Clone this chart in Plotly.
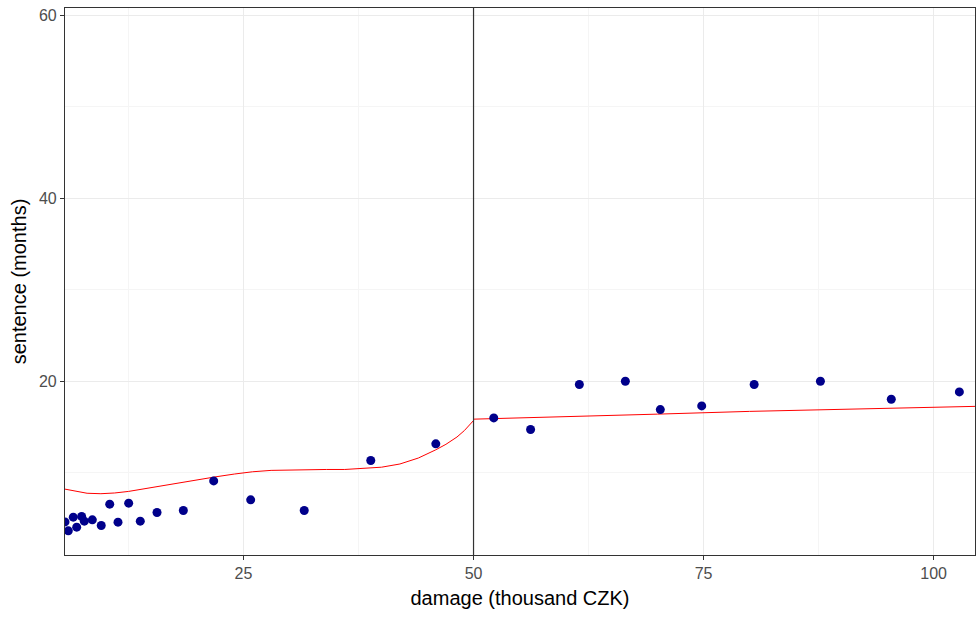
import plotly.graph_objects as go

# Observed points
damage = [5.6, 5.96, 6.5, 6.87, 7.41, 7.7, 8.57, 9.54, 10.46, 11.36, 12.52, 13.78,
          15.6, 18.46, 21.76, 25.78, 31.6, 38.83, 45.9,
          52.2, 56.2, 61.5, 66.5, 70.3, 74.8, 80.5, 87.7, 95.4, 102.8]
sentence = [4.62, 3.64, 5.14, 4.04, 5.21, 4.7, 4.84, 4.23, 6.56, 4.59, 6.67, 4.7,
            5.65, 5.87, 9.1, 7.03, 5.87, 11.33, 13.15,
            15.99, 14.72, 19.64, 20.0, 16.9, 17.3, 19.64, 20.0, 18.03, 18.83]

# Fitted curve, below cutoff
fit_left_x = [5.6, 6.5, 8.0, 9.5, 11, 12.5, 14, 16, 18, 20, 22, 24, 26, 28, 30, 32, 34,
              36, 38, 40, 42, 44, 45.9, 47, 48.2, 49, 50]
fit_left_y = [8.2, 8.0, 7.75, 7.7, 7.78, 7.95, 8.2, 8.6, 8.95, 9.25, 9.55, 9.85, 10.1,
              10.25, 10.3, 10.35, 10.35, 10.35, 10.45, 10.6, 10.95, 11.6, 12.5, 13.1,
              13.9, 14.6, 15.7]
# Fitted curve, above cutoff
fit_right_x = [50, 60, 70, 80, 90, 104.5]
fit_right_y = [15.85, 16.1, 16.4, 16.7, 16.95, 17.25]

cutoff = 50
x_range = [5.6, 104.5]
y_range = [1.0, 60.8]
x_ticks = [25, 50, 75, 100]
y_ticks = [20, 40, 60]

fig = go.Figure()
fig.add_trace(go.Scatter(x=fit_left_x, y=fit_left_y, mode="lines",
                         line=dict(color="red", width=1), showlegend=False))
fig.add_trace(go.Scatter(x=fit_right_x, y=fit_right_y, mode="lines",
                         line=dict(color="red", width=1), showlegend=False))
fig.add_trace(go.Scatter(x=damage, y=sentence, mode="markers",
                         marker=dict(color="#00008B", size=9), showlegend=False,
                         cliponaxis=True))
fig.add_vline(x=cutoff, line=dict(color="#333333", width=1.2))

axis_common = dict(
    showline=True, mirror=True, linecolor="#333333", linewidth=1.2,
    ticks="outside", ticklen=4, tickcolor="#333333", tickwidth=1,
    tickfont=dict(family="Liberation Sans, Arial", size=16, color="#4D4D4D"),
    showgrid=True, gridcolor="#EBEBEB", gridwidth=1, zeroline=False,
)

fig.update_xaxes(range=x_range, tickvals=x_ticks, **axis_common,
                 minor=dict(tickvals=[12.5, 37.5, 62.5, 87.5], showgrid=True,
                            gridcolor="#F5F5F5", ticks=""),
                 title=dict(text="damage (thousand CZK)", standoff=9,
                            font=dict(family="Liberation Sans, Arial", size=20, color="black")))
fig.update_yaxes(range=y_range, tickvals=y_ticks, **axis_common,
                 minor=dict(tickvals=[10, 30, 50], showgrid=True,
                            gridcolor="#F5F5F5", ticks=""),
                 title=dict(text="sentence (months)", standoff=6,
                            font=dict(family="Liberation Sans, Arial", size=20, color="black")))

fig.update_layout(
    width=976, height=617,
    margin=dict(l=65, r=1, t=8, b=62),
    plot_bgcolor="white", paper_bgcolor="white",
)

fig.write_html("out.html")
